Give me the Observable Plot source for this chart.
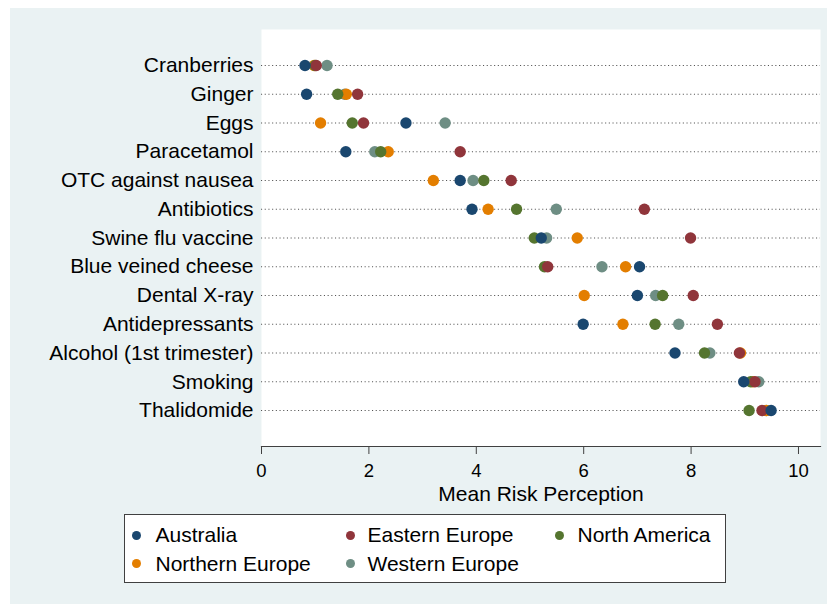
<!DOCTYPE html>
<html>
<head>
<meta charset="utf-8">
<script src="https://cdn.jsdelivr.net/npm/d3@7"></script>
<script src="https://cdn.jsdelivr.net/npm/@observablehq/plot@0.6"></script>
<style>
  html, body { margin: 0; padding: 0; background: #ffffff; }
  #wrap { position: relative; width: 827px; height: 604px; overflow: hidden; font-family: "Liberation Sans", Arial, sans-serif; }
  #bg { position: absolute; left: 10px; top: 8px; width: 817px; height: 596px; background: #EAF2F3; }
  #chart { position: absolute; left: 0; top: 0; }
  #legend { position: absolute; left: 124px; top: 514px; width: 602px; height: 69px; background: #fff; border: 1.5px solid #404040; box-sizing: border-box; }
  .item { position: absolute; font-size: 21px; color: #000; line-height: 21px; white-space: nowrap; }
  .sw { position: absolute; width: 9px; height: 9px; border-radius: 50%; }
</style>
</head>
<body>
<div id="wrap">
  <div id="bg"></div>
  <div id="chart"></div>
  <div id="legend"></div>
</div>
<script>
const categories = ["Cranberries","Ginger","Eggs","Paracetamol","OTC against nausea","Antibiotics","Swine flu vaccine","Blue veined cheese","Dental X-ray","Antidepressants","Alcohol (1st trimester)","Smoking","Thalidomide"];

const australia      = [0.81, 0.84, 2.69, 1.57, 3.70, 3.92, 5.21, 7.04, 7.00, 5.99, 7.70, 8.98, 9.49];
const easternEurope  = [1.02, 1.79, 1.90, 3.70, 4.65, 7.13, 7.99, 5.33, 8.04, 8.49, 8.90, 9.19, 9.32];
const northAmerica   = [1.00, 1.42, 1.69, 2.22, 4.14, 4.75, 5.08, 5.27, 7.47, 7.33, 8.25, 9.11, 9.08];
const northernEurope = [0.98, 1.58, 1.10, 2.36, 3.20, 4.22, 5.88, 6.78, 6.01, 6.73, 8.92, 9.15, 9.40];
const westernEurope  = [1.22, 1.55, 3.42, 2.11, 3.94, 5.49, 5.31, 6.34, 7.34, 7.77, 8.35, 9.26, 9.40];

const regions = ["Australia","Eastern Europe","North America","Northern Europe","Western Europe"];
const regionColors = ["#1A476F","#90353B","#55752F","#E37E00","#6E8E84"];
const xTicks = [0, 2, 4, 6, 8, 10];

const seriesByRegion = {
  "Australia": australia,
  "Eastern Europe": easternEurope,
  "North America": northAmerica,
  "Northern Europe": northernEurope,
  "Western Europe": westernEurope
};

// draw order: Western (bottom) ... Australia (top)
const drawOrder = ["Western Europe","Northern Europe","North America","Eastern Europe","Australia"];
const rows = [];
for (const r of drawOrder) {
  seriesByRegion[r].forEach((v, i) => rows.push({region: r, item: categories[i], value: v}));
}

const chart = Plot.plot({
  width: 827,
  height: 604,
  marginLeft: 261,
  marginRight: 7,
  marginTop: 29,
  marginBottom: 158,
  style: {background: "transparent", fontFamily: "'Liberation Sans', Arial, sans-serif", color: "#000"},
  x: {domain: [0, 10.41], ticks: xTicks},
  y: {domain: categories, type: "point", padding: 1.25, round: false},
  color: {domain: regions, range: regionColors},
  marks: [
    Plot.frame({fill: "white", stroke: null}),
    Plot.ruleY(categories, {y: d => d, stroke: "#555", strokeWidth: 1.1, strokeDasharray: "1.1 2.6"}),
    Plot.frame({anchor: "bottom", stroke: "#404040", strokeWidth: 1.2}),
    Plot.axisX({ticks: xTicks, tickSize: 8, tickPadding: 9, fontSize: 18.5, stroke: "#404040", label: null}),
    Plot.axisX({ticks: [], tickSize: 0, fontSize: 21,
      label: "Mean Risk Perception", labelAnchor: "center", labelArrow: "none", labelOffset: 54}),
    Plot.axisY({tickSize: 0, tickPadding: 8, fontSize: 21, label: null}),
    Plot.dot(rows, {x: "value", y: "item", fill: "region", r: 5.7, stroke: null})
  ]
});
chart.querySelectorAll("text").forEach(t => t.setAttribute("fill", "#000"));
document.getElementById("chart").appendChild(chart);

// legend
const legend = document.getElementById("legend");
const pos = [
  {sx: 7.3, tx: 30.5, ty: 9, my: 15.7},
  {sx: 220.7, tx: 242.5, ty: 9, my: 15.7},
  {sx: 430, tx: 452.5, ty: 9, my: 15.7},
  {sx: 7.3, tx: 30.5, ty: 38, my: 44.3},
  {sx: 220.7, tx: 242.5, ty: 38, my: 44.3}
];
regions.forEach((r, i) => {
  const p = pos[i];
  const sw = document.createElement("div");
  sw.className = "sw";
  sw.style.left = p.sx + "px";
  sw.style.top = p.my + "px";
  sw.style.background = regionColors[i];
  legend.appendChild(sw);
  const t = document.createElement("div");
  t.className = "item";
  t.style.left = p.tx + "px";
  t.style.top = p.ty + "px";
  t.textContent = r;
  legend.appendChild(t);
});
</script>
</body>
</html>
